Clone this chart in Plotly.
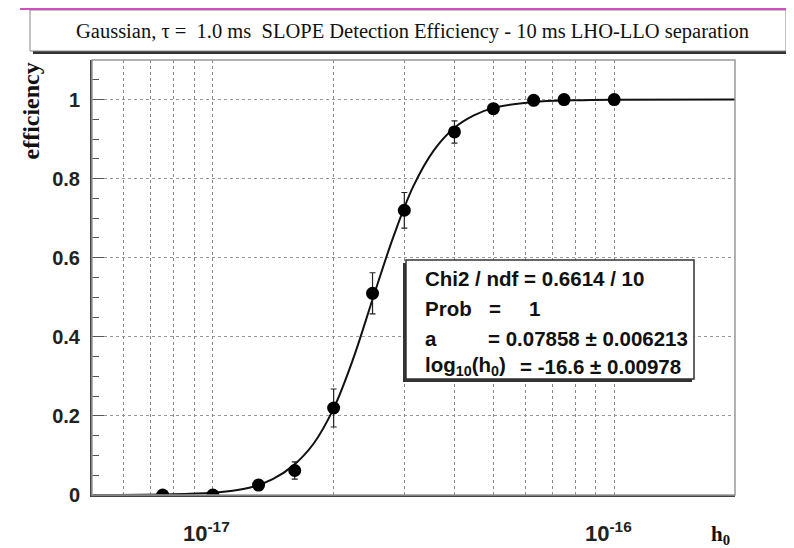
import math
import plotly.graph_objects as go

# ---- data ----
h_values = [7.5e-18, 1.0e-17, 1.3e-17, 1.6e-17, 2.0e-17, 2.5e-17, 3.0e-17,
            4.0e-17, 5.0e-17, 6.3e-17, 7.5e-17, 1.0e-16]
efficiency = [0.0, 0.0, 0.025, 0.062, 0.22, 0.51, 0.72, 0.918, 0.977, 0.998, 1.0, 1.0]
eff_error = [0.0, 0.0, 0.012, 0.022, 0.048, 0.052, 0.045, 0.028, 0.012, 0.004, 0.002, 0.0]

# fitted curve
fit_h = [5.0e-18, 7.9e-18, 1.0e-17, 1.12e-17, 1.26e-17, 1.41e-17, 1.58e-17, 1.78e-17,
         2.0e-17, 2.24e-17, 2.51e-17, 2.82e-17, 3.16e-17, 3.55e-17, 3.98e-17,
         4.47e-17, 5.01e-17, 6.31e-17, 7.94e-17, 1.0e-16, 2.0e-16]
fit_eff = [0.0, 0.002, 0.006, 0.011, 0.021, 0.040, 0.073, 0.129, 0.219, 0.346, 0.50,
           0.654, 0.781, 0.871, 0.927, 0.960, 0.979, 0.994, 0.998, 0.9995, 1.0]

x_grid_vals = [6e-18, 7e-18, 8e-18, 9e-18, 1e-17, 2e-17, 3e-17, 4e-17, 5e-17,
               6e-17, 7e-17, 8e-17, 9e-17, 1e-16]
x_label_vals = [1e-17, 1e-16]
x_label_text = ["10<sup>-17</sup>", "10<sup>-16</sup>"]
y_tick_vals = [0, 0.2, 0.4, 0.6, 0.8, 1.0]
y_tick_text = ["0", "0.2", "0.4", "0.6", "0.8", "1"]

title_text = "Gaussian, \u03c4 =  1.0 ms  SLOPE Detection Efficiency - 10 ms LHO-LLO separation"
# (label, value-part) rows of the fit statistics box
stats_rows = [
    ("Chi2 / ndf = 0.6614 / 10", ""),
    ("Prob", "="),
    ("a", "= 0.07858 \u00b1 0.006213"),
    ("log<sub>10</sub>(h<sub>0</sub>)", "= -16.6 \u00b1 0.00978"),
]
prob_value = "1"

# the page body has an 8px margin: the figure sits at (8, 8) in the window
OFF = 8
W, H = 794 - OFF, 548 - OFF
L, R, T, B = 92, 735, 60, 495   # plot area in window pixels
XR = [-17.301, -15.699]


def px(x):
    return (x - L) / (R - L)


def py(y):
    return (B - y) / (B - T)


fig = go.Figure()
# invisible helper trace so the gridline axis is drawn
fig.add_trace(go.Scatter(x=[x_grid_vals[0]], y=[None], xaxis="x2", mode="markers",
                         showlegend=False, hoverinfo="skip"))
fig.add_trace(go.Scatter(x=fit_h, y=fit_eff, mode="lines", line=dict(color="#111", width=2, shape="spline"),
                         hoverinfo="skip", showlegend=False))
fig.add_trace(go.Scatter(x=h_values, y=efficiency, mode="markers",
                         marker=dict(color="black", size=13),
                         error_y=dict(type="data", array=eff_error, visible=True, color="#222",
                                      thickness=1.2, width=3),
                         showlegend=False))

sans = "Liberation Sans, Arial, sans-serif"
serif = "Liberation Serif, Times New Roman, serif"

fig.update_layout(
    width=W, height=H, autosize=False,
    margin=dict(l=L - OFF, r=W + OFF - R, t=T - OFF, b=H + OFF - B),
    paper_bgcolor="white", plot_bgcolor="white",
    xaxis2=dict(type="log", range=XR, overlaying="x", side="bottom",
                tickvals=x_grid_vals, showticklabels=False, showgrid=True, gridcolor="#888",
                griddash="dot", gridwidth=1, ticks="", showline=False, zeroline=False),
    xaxis=dict(type="log", range=XR, tickvals=x_label_vals, showticklabels=False,
               showgrid=False, automargin=False,
               ticks="", showline=True, linecolor="#444", linewidth=2, zeroline=False),
    yaxis=dict(range=[0, 1.1], tickvals=y_tick_vals, ticktext=y_tick_text, automargin=False,
               showgrid=True, gridcolor="#999", griddash="dot", gridwidth=1,
               ticks="inside", ticklen=12, tickcolor="#555",
               minor=dict(dtick=0.05, ticks="inside", ticklen=7, tickcolor="#555", showgrid=False),
               showline=True, linecolor="#444", linewidth=2,
               tickfont=dict(family=sans, size=20, color="#222", weight="bold"),
               ticklabelstandoff=6, zeroline=False),
)

shapes = []
shapes.append(dict(type="rect", xref="paper", yref="paper", x0=0, x1=1, y0=0, y1=1,
                   line=dict(color="#999", width=1.5), layer="above"))
# title box with shadow
shapes.append(dict(type="rect", xref="paper", yref="paper", x0=px(33), x1=px(789), y0=py(54), y1=py(12),
                   fillcolor="#333", line=dict(width=0), layer="above"))
shapes.append(dict(type="rect", xref="paper", yref="paper", x0=px(30), x1=px(786), y0=py(51), y1=py(10),
                   fillcolor="white", line=dict(color="#888", width=1), layer="above"))
# magenta line along the top
shapes.append(dict(type="line", xref="paper", yref="paper", x0=px(20), x1=px(794), y0=py(9), y1=py(9),
                   line=dict(color="#d050c0", width=2), layer="above"))
# stats box with shadow
shapes.append(dict(type="rect", xref="paper", yref="paper", x0=px(403), x1=px(692), y0=py(382), y1=py(263),
                   fillcolor="#333", line=dict(width=0), layer="above"))
shapes.append(dict(type="rect", xref="paper", yref="paper", x0=px(406), x1=px(694), y0=py(379), y1=py(260),
                   fillcolor="white", line=dict(color="#333", width=1.5), layer="above"))
fig.update_layout(shapes=shapes)

ann = []
ann.append(dict(text=title_text, xref="paper", yref="paper", x=px(412), y=py(31), showarrow=False,
                xanchor="center", yanchor="middle", font=dict(family=serif, size=20.5, color="#111")))
ann.append(dict(text="<b>efficiency</b>", xref="paper", yref="paper", x=px(30), y=py(61), showarrow=False,
                textangle=-90, xanchor="center", yanchor="top", font=dict(family=serif, size=24, color="#111")))
ann.append(dict(text="<b>h<sub>0</sub></b>", xref="paper", yref="paper", x=px(720), y=py(535), showarrow=False,
                xanchor="center", yanchor="middle", font=dict(family=serif, size=21, color="#111")))
# x tick labels (decades)
for v, t in zip(x_label_vals, x_label_text):
    ann.append(dict(text=t, xref="x", yref="paper", x=math.log10(v), y=py(532), showarrow=False,
                    xanchor="center", yanchor="middle", xshift=-6,
                    font=dict(family=sans, size=22, color="#222", weight="bold")))

row_y = [278, 308, 338, 366]
value_x = [532, 487, 486, 518]
for (label, value), ry, vx in zip(stats_rows, row_y, value_x):
    ann.append(dict(text=label, xref="paper", yref="paper", x=px(423), y=py(ry), showarrow=False,
                    xanchor="left", yanchor="middle",
                    font=dict(family=sans, size=20.5, color="#111", weight="bold")))
    if value:
        ann.append(dict(text=value, xref="paper", yref="paper", x=px(vx), y=py(ry), showarrow=False,
                        xanchor="left", yanchor="middle",
                        font=dict(family=sans, size=20.5, color="#111", weight="bold")))
ann.append(dict(text=prob_value, xref="paper", yref="paper", x=px(527), y=py(row_y[1]), showarrow=False,
                xanchor="left", yanchor="middle",
                font=dict(family=sans, size=20.5, color="#111", weight="bold")))
fig.update_layout(annotations=ann)

fig.write_html("out.html")
